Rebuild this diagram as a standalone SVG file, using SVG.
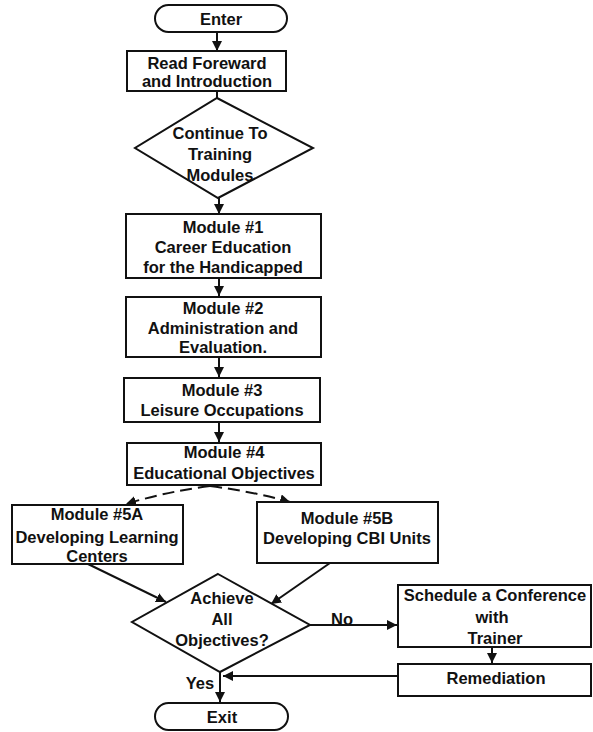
<svg xmlns="http://www.w3.org/2000/svg" width="593" height="732" viewBox="0 0 593 732">
<defs>
<style>
.s{fill:#fff;stroke:#111;stroke-width:2}
.t{font-family:"Liberation Sans",Arial,sans-serif;font-weight:bold;font-size:16.5px;fill:#111;text-anchor:middle}
.c{fill:none;stroke:#111;stroke-width:2}
.d{fill:none;stroke:#111;stroke-width:2;stroke-dasharray:12 6}
</style>
<marker id="a" markerUnits="userSpaceOnUse" markerWidth="12" markerHeight="12" refX="10" refY="5" orient="auto"><path d="M0,0 L10,5 L0,10 Z" fill="#111"/></marker>
</defs>
<rect width="593" height="732" fill="#fff"/>
<g id="connectors">
<line class="c" x1="217" y1="32" x2="217" y2="51" marker-end="url(#a)"/>
<line class="c" x1="217" y1="91" x2="217" y2="98"/>
<line class="c" x1="219" y1="198" x2="219" y2="214" marker-end="url(#a)"/>
<line class="c" x1="219" y1="278" x2="219" y2="296" marker-end="url(#a)"/>
<line class="c" x1="219" y1="357" x2="219" y2="377" marker-end="url(#a)"/>
<line class="c" x1="219" y1="422" x2="219" y2="442" marker-end="url(#a)"/>
<path class="d" d="M210,486 Q165,492 126,504" marker-end="url(#a)"/>
<path class="d" d="M210,486 Q255,492 290,502" marker-end="url(#a)"/>
<line class="c" x1="88" y1="564" x2="166" y2="602" marker-end="url(#a)"/>
<line class="c" x1="330" y1="563" x2="271" y2="604" marker-end="url(#a)"/>
<line class="c" x1="310" y1="625" x2="397" y2="625" marker-end="url(#a)"/>
<line class="c" x1="492" y1="647" x2="492" y2="663" marker-end="url(#a)"/>
<line class="c" x1="398" y1="676" x2="223" y2="676" marker-end="url(#a)"/>
<line class="c" x1="220" y1="672" x2="220" y2="702" marker-end="url(#a)"/>
<text class="t" x="342" y="625">No</text>
<text class="t" x="200" y="689">Yes</text>
</g>
<g id="enter">
<rect class="s" x="155" y="5" width="132" height="27" rx="13.5"/>
<text class="t" x="221" y="25">Enter</text>
</g>
<g id="read">
<rect class="s" x="127" y="51" width="159" height="40"/>
<text class="t" x="207" y="69">Read Foreward</text>
<text class="t" x="207" y="87">and Introduction</text>
</g>
<g id="continue">
<polygon class="s" points="217,98 313,148 218,198 135,148"/>
<text class="t" x="220" y="139">Continue To</text>
<text class="t" x="220" y="160">Training</text>
<text class="t" x="220" y="181">Modules</text>
</g>
<g id="module1">
<rect class="s" x="126" y="214" width="195" height="64"/>
<text class="t" x="223" y="233">Module #1</text>
<text class="t" x="223" y="253">Career Education</text>
<text class="t" x="223" y="273">for the Handicapped</text>
</g>
<g id="module2">
<rect class="s" x="126" y="297" width="195" height="60"/>
<text class="t" x="223" y="314">Module #2</text>
<text class="t" x="223" y="334">Administration and</text>
<text class="t" x="223" y="353">Evaluation.</text>
</g>
<g id="module3">
<rect class="s" x="124" y="378" width="196" height="44"/>
<text class="t" x="222" y="396">Module #3</text>
<text class="t" x="222" y="416">Leisure Occupations</text>
</g>
<g id="module4">
<rect class="s" x="127" y="443" width="194" height="42"/>
<text class="t" x="224" y="458">Module #4</text>
<text class="t" x="224" y="479">Educational Objectives</text>
</g>
<g id="module5a">
<rect class="s" x="12" y="505" width="171" height="59"/>
<text class="t" x="97" y="520">Module #5A</text>
<text class="t" x="97" y="543">Developing Learning</text>
<text class="t" x="97" y="562">Centers</text>
</g>
<g id="module5b">
<rect class="s" x="257" y="502" width="181" height="61"/>
<text class="t" x="347" y="524">Module #5B</text>
<text class="t" x="347" y="544">Developing CBI Units</text>
</g>
<g id="achieve">
<polygon class="s" points="218,574 310,625 220,672 132,622"/>
<text class="t" x="222" y="604">Achieve</text>
<text class="t" x="222" y="625">All</text>
<text class="t" x="222" y="646">Objectives?</text>
</g>
<g id="schedule">
<rect class="s" x="398" y="585" width="193" height="62"/>
<text class="t" x="495" y="601">Schedule a Conference</text>
<text class="t" x="492" y="623">with</text>
<text class="t" x="495" y="644">Trainer</text>
</g>
<g id="remediation">
<rect class="s" x="398" y="664" width="193" height="32"/>
<text class="t" x="496" y="684">Remediation</text>
</g>
<g id="exit">
<rect class="s" x="155" y="703" width="133" height="27" rx="13.5"/>
<text class="t" x="222" y="723">Exit</text>
</g>
</svg>
